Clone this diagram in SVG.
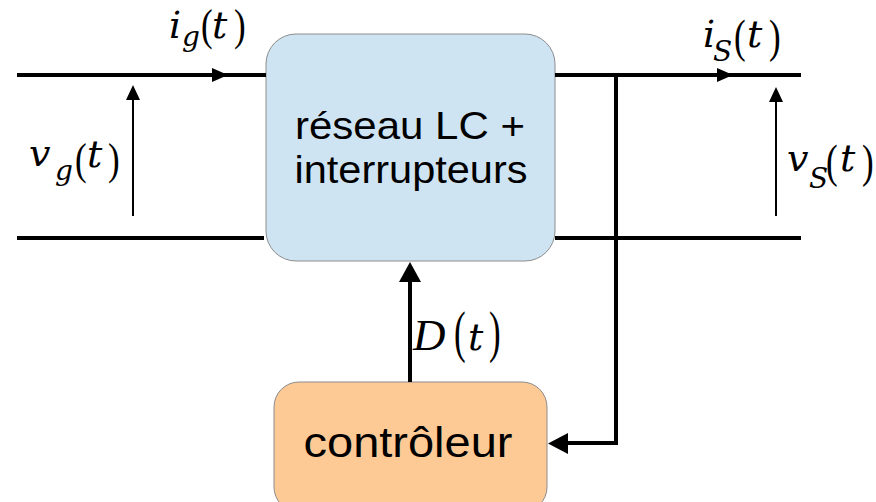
<svg xmlns="http://www.w3.org/2000/svg" width="876" height="502" viewBox="0 0 876 502">
  <style>
    .wire { stroke: #000; stroke-width: 4; fill: none; }
    .volt { stroke: #000; stroke-width: 2; fill: none; }
    .box-text { font-family: "Liberation Sans", Arial, sans-serif; fill: #000; }
    .math { font-family: "DejaVu Serif", serif; font-style: italic; font-size: 38px; fill: #000; }
    .sub { font-size: 28px; }
    .par { font-family: "Liberation Serif", serif; font-size: 35px; fill: #000; }
  </style>
  <rect width="876" height="502" fill="#fff"/>

  <!-- power stage block -->
  <g id="reseau">
    <rect x="266" y="34" width="289" height="227" rx="30" ry="30" fill="#cfe4f3" stroke="#8c8c8c" stroke-width="1"/>
    <text class="box-text" font-size="39" text-anchor="middle" x="410" y="139" textLength="230" lengthAdjust="spacingAndGlyphs">réseau LC +</text>
    <text class="box-text" font-size="39" text-anchor="middle" x="411" y="183" textLength="233" lengthAdjust="spacingAndGlyphs">interrupteurs</text>
  </g>

  <!-- controller block -->
  <g id="controleur">
    <rect x="274" y="382" width="273" height="130" rx="25" ry="25" fill="#fdc995" stroke="#8c8c8c" stroke-width="1"/>
    <text class="box-text" font-size="43" text-anchor="middle" x="408" y="457" textLength="209" lengthAdjust="spacingAndGlyphs">contrôleur</text>
  </g>

  <!-- wiring and arrows -->
  <g id="connectors">
    <!-- input port -->
    <line class="wire" x1="17" y1="75" x2="266" y2="75"/>
    <line class="wire" x1="17" y1="238" x2="264" y2="238"/>
    <polygon points="212,68 228,75 212,82" fill="#000"/>
    <!-- output port -->
    <line class="wire" x1="555" y1="75" x2="801" y2="75"/>
    <line class="wire" x1="555" y1="238" x2="801" y2="238"/>
    <polygon points="717,68 733,75 717,82" fill="#000"/>
    <!-- voltage arrows -->
    <line class="volt" x1="133" y1="216" x2="133" y2="99"/>
    <polygon points="126,100 133,85 140,100" fill="#000"/>
    <line class="volt" x1="776" y1="216" x2="776" y2="101"/>
    <polygon points="769,102 776,87 783,102" fill="#000"/>
    <!-- feedback path -->
    <polyline class="wire" points="616,75 616,443 566,443"/>
    <polygon points="568,433 548,443.5 568,454" fill="#000"/>
    <!-- duty cycle command -->
    <line class="wire" x1="410" y1="382" x2="410" y2="280"/>
    <polygon points="399,282 410,262 421,282" fill="#000"/>
  </g>

  <!-- signal labels: letters in italic, tall thin parentheses -->
  <g id="label-ig">
    <text class="math" x="169" y="38">i</text>
    <text class="math sub" x="182" y="46">g</text>
    <text class="par" transform="translate(201,40) scale(1,1.28)">(</text>
    <text class="math" x="212" y="38">t</text>
    <text class="par" transform="translate(234,40) scale(1,1.28)">)</text>
  </g>
  <g id="label-vg">
    <text class="math" x="29" y="166">v</text>
    <text class="math sub" x="55" y="180">g</text>
    <text class="par" transform="translate(75,174) scale(1,1.28)">(</text>
    <text class="math" x="87" y="167">t</text>
    <text class="par" transform="translate(108,174) scale(1,1.28)">)</text>
  </g>
  <g id="label-D">
    <text font-family="Liberation Serif, serif" font-style="italic" font-size="45" x="413" y="350">D</text>
    <text class="par" transform="translate(454,351) scale(1,1.65)">(</text>
    <text class="math" x="468" y="350">t</text>
    <text class="par" transform="translate(489,351) scale(1,1.65)">)</text>
  </g>
  <g id="label-is">
    <text class="math" x="703" y="47">i</text>
    <text class="math sub" font-size="25" x="713" y="61">S</text>
    <text class="par" transform="translate(734,52) scale(1,1.35)">(</text>
    <text class="math" x="747" y="47">t</text>
    <text class="par" transform="translate(769,52) scale(1,1.35)">)</text>
  </g>
  <g id="label-vs">
    <text class="math" x="787" y="171">v</text>
    <text class="math sub" font-size="25" x="809" y="188">S</text>
    <text class="par" transform="translate(826,177) scale(1,1.35)">(</text>
    <text class="math" x="840" y="171">t</text>
    <text class="par" transform="translate(862,177) scale(1,1.35)">)</text>
  </g>
</svg>
